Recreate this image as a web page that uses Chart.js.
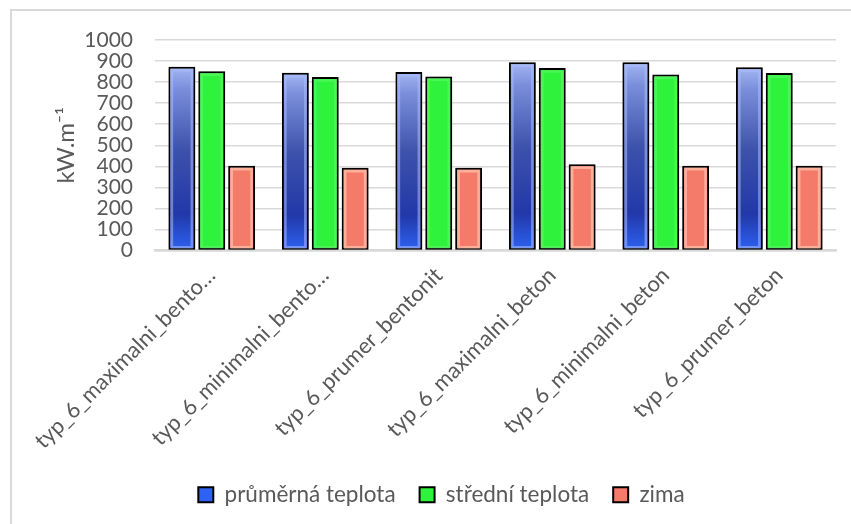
<!DOCTYPE html>
<html>
<head>
<meta charset="utf-8">
<script src="https://cdn.jsdelivr.net/npm/chart.js@4.4.1/dist/chart.umd.min.js"></script>
<style>
    html, body { margin: 0; padding: 0; background: #fff; }
    body { width: 851px; height: 524px; overflow: hidden; position: relative; }
    #frame {
        position: absolute; left: 10px; top: 9px; width: 900px; height: 600px;
        border-top: 2px solid #d9d9d9; border-left: 2px solid #d9d9d9;
    }
    #wrap { position: absolute; left: 0; top: 0; width: 851px; height: 524px; }
</style>
</head>
<body>
<div id="frame"></div>
<div id="wrap"><canvas id="chart" width="851" height="524"></canvas></div>
<script>
// Chart data
const categories = [
    'typ_6_maximalni_bento…',
    'typ_6_minimalni_bento…',
    'typ_6_prumer_bentonit',
    'typ_6_maximalni_beton',
    'typ_6_minimalni_beton',
    'typ_6_prumer_beton'
];
const seriesNames = ['průměrná teplota', 'střední teplota', 'zima'];
const prumernaTeplota = [873, 844, 848, 894, 894, 870];
const stredniTeplota = [851, 824, 827, 867, 836, 843];
const zima = [403, 393, 393, 410, 403, 403];
const yTicks = [0, 100, 200, 300, 400, 500, 600, 700, 800, 900, 1000];
const yTitle = 'kW.m⁻¹';

const textColor = '#595959';
const gridColor = '#d9d9d9';
const fontFamily = 'Lato, "Open Sans", sans-serif';

// Vertical gradient per blue bar, from the bar top down to zero
function blueFill(ctx) {
    const chart = ctx.chart;
    if (ctx.type !== 'data' || !chart.chartArea) return '#3a55c8';
    const y = chart.scales.y;
    const top = y.getPixelForValue(ctx.raw);
    const bottom = y.getPixelForValue(0);
    const g = chart.ctx.createLinearGradient(0, top, 0, bottom);
    g.addColorStop(0, '#a4b6f2');
    g.addColorStop(0.12, '#7b8edb');
    g.addColorStop(0.45, '#3d52ab');
    g.addColorStop(0.8, '#2238a8');
    g.addColorStop(1, '#2d62f2');
    return g;
}

// Drop shadow under bars + inner light bevel
const barEffects = {
    id: 'barEffects',
    beforeDatasetDraw(chart) {
        const c = chart.ctx;
        c.save();
        c.shadowColor = 'rgba(0,0,0,0.35)';
        c.shadowBlur = 5;
        c.shadowOffsetX = 1;
        c.shadowOffsetY = 1;
    },
    afterDatasetDraw(chart, args) {
        const c = chart.ctx;
        c.restore();
        const bevel = ['rgba(170,190,255,0.55)', 'rgba(120,255,130,0.35)', 'rgba(255,190,165,0.8)'][args.index];
        c.save();
        c.strokeStyle = bevel;
        c.lineWidth = 2.5;
        args.meta.data.forEach(bar => {
            const p = bar.getProps(['x', 'y', 'base', 'width'], true);
            const left = p.x - p.width / 2 + 3.5;
            const w = p.width - 7;
            const h = p.base - p.y - 6;
            if (h > 0) c.strokeRect(left, p.y + 3.5, w, h);
        });
        c.restore();
    }
};

const datasets = [
    { label: seriesNames[0], data: prumernaTeplota, backgroundColor: blueFill },
    { label: seriesNames[1], data: stredniTeplota, backgroundColor: '#2ff23c' },
    { label: seriesNames[2], data: zima, backgroundColor: '#f47b69' }
].map(d => Object.assign(d, {
    borderColor: '#000',
    borderWidth: 2,
    borderSkipped: false,
    barPercentage: 0.9,
    categoryPercentage: 0.79
}));

new Chart(document.getElementById('chart'), {
    type: 'bar',
    data: { labels: categories, datasets: datasets },
    plugins: [barEffects],
    options: {
        responsive: false,
        animation: false,
        layout: { padding: { top: 40, left: 47, right: 15, bottom: 8 } },
        plugins: {
            tooltip: { enabled: false },
            legend: {
                position: 'bottom',
                labels: {
                    color: textColor,
                    font: { family: fontFamily, size: 22.5 },
                    boxWidth: 15,
                    boxHeight: 15,
                    padding: 24
                }
            }
        },
        scales: {
            x: {
                grid: { display: false, drawTicks: false },
                border: { display: true, color: gridColor, width: 2.5 },
                ticks: {
                    color: textColor,
                    font: { family: fontFamily, size: 22 },
                    minRotation: 45,
                    maxRotation: 45,
                    padding: 12,
                    autoSkip: false
                },
                afterFit(scale) { scale.height = 209; }
            },
            y: {
                min: 0,
                max: 1000,
                afterBuildTicks(scale) { scale.ticks = yTicks.map(v => ({ value: v })); },
                grid: { color: gridColor, lineWidth: 1.5, drawTicks: false },
                border: { display: false },
                ticks: {
                    color: textColor,
                    font: { family: fontFamily, size: 21 },
                    padding: 22,
                    autoSkip: false,
                    callback: v => String(v)
                },
                title: {
                    display: true,
                    text: yTitle,
                    color: textColor,
                    font: { family: fontFamily, size: 24 },
                    padding: { top: 5, bottom: 2 }
                },
                afterFit(scale) { scale.width = 108; }
            }
        }
    }
});
</script>
</body>
</html>
